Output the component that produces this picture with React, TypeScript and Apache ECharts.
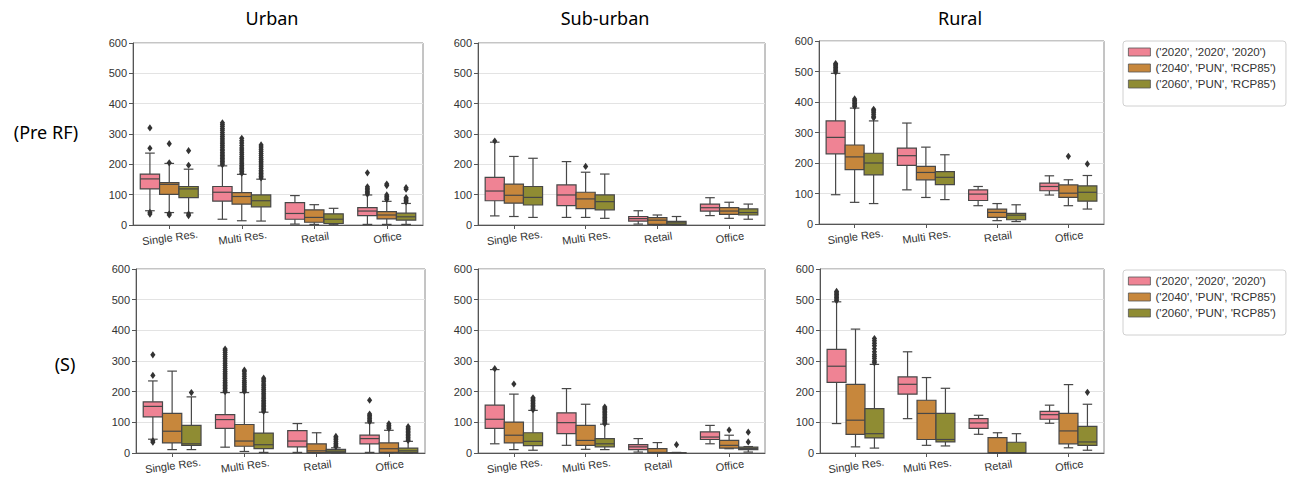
import React, { useEffect, useRef } from "react";
import * as echarts from "echarts";

// ---------- data ----------
const categories = ["Single Res.", "Multi Res.", "Retail", "Office"];
const hueNames = ["('2020', '2020', '2020')", "('2040', 'PUN', 'RCP85')", "('2060', 'PUN', 'RCP85')"];
const panelTitles = ["Urban", "Sub-urban", "Rural"];
const rowLabels = ["(Pre RF)", "(S)"];
const yMin = 0;
const yMax = 600;
const yStep = 100;

// boxes: [lower whisker, Q1, median, Q3, upper whisker] per category
const urbanPre2020 = [[47, 119, 152, 168, 237], [19, 79, 108, 127, 195], [3, 19, 38, 74, 97], [2, 31, 46, 57, 99]];
const urbanPre2040 = [[41, 101, 134, 140, 203], [14, 69, 94, 107, 167], [2, 9, 25, 50, 67], [2, 20, 33, 44, 78]];
const urbanPre2060 = [[40, 90, 119, 127, 184], [13, 60, 80, 99, 151], [1, 5, 19, 37, 55], [2, 16, 27, 39, 71]];

const suburbPre2020 = [[30, 80, 112, 157, 273], [25, 64, 99, 132, 209], [3, 13, 21, 28, 47], [31, 46, 57, 69, 90]];
const suburbPre2040 = [[28, 72, 98, 135, 226], [25, 54, 86, 108, 174], [0, 2, 16, 24, 33], [22, 35, 46, 57, 75]];
const suburbPre2060 = [[25, 66, 91, 127, 220], [22, 50, 77, 99, 168], [0, 1, 7, 12, 28], [19, 33, 41, 53, 69]];

const ruralPre2020 = [[96, 230, 284, 338, 494], [112, 192, 224, 249, 331], [60, 77, 98, 112, 123], [95, 109, 123, 134, 158]];
const ruralPre2040 = [[71, 178, 220, 259, 380], [87, 145, 169, 189, 252], [11, 22, 38, 49, 67], [60, 87, 101, 128, 145]];
const ruralPre2060 = [[67, 161, 200, 232, 338], [80, 129, 153, 172, 227], [8, 14, 29, 35, 63], [49, 75, 104, 125, 159]];

const urbanS2020 = [[45, 118, 152, 167, 235], [19, 80, 109, 125, 197], [2, 20, 39, 73, 96], [2, 30, 47, 58, 98]];
const urbanS2040 = [[11, 33, 71, 129, 267], [5, 22, 39, 93, 197], [0, 1, 7, 30, 66], [0, 2, 14, 33, 74]];
const urbanS2060 = [[11, 25, 30, 90, 183], [2, 14, 27, 65, 133], [0, 2, 6, 12, 17], [0, 1, 7, 16, 38]];

const suburbS2020 = [[30, 80, 110, 156, 272], [25, 63, 99, 131, 210], [3, 11, 20, 27, 47], [30, 44, 52, 69, 90]];
const suburbS2040 = [[11, 33, 58, 101, 192], [12, 25, 41, 90, 159], [0, 0, 2, 14, 34], [14, 16, 25, 41, 58]];
const suburbS2060 = [[9, 24, 38, 66, 139], [11, 20, 30, 47, 94], [0, 0, 0, 1, 2], [3, 11, 15, 19, 21]];

const ruralS2020 = [[96, 230, 283, 338, 493], [112, 192, 224, 248, 330], [61, 80, 98, 112, 123], [97, 110, 125, 136, 156]];
const ruralS2040 = [[20, 61, 107, 224, 404], [25, 44, 129, 172, 246], [0, 1, 1, 50, 66], [17, 30, 72, 129, 223]];
const ruralS2060 = [[16, 49, 63, 145, 289], [23, 36, 44, 129, 211], [0, 1, 1, 35, 63], [9, 25, 36, 87, 159]];

// outliers: [category index, value]
const urbanPre2020Out = [
  [0, 320], [0, 253], [0, 42], [0, 36],
  [1, 199], [1, 204], [1, 209], [1, 214], [1, 219], [1, 224], [1, 229], [1, 234], [1, 239], [1, 245], [1, 250], [1, 256],
  [1, 262], [1, 268], [1, 274], [1, 280], [1, 286], [1, 292], [1, 298], [1, 305], [1, 312], [1, 318], [1, 325], [1, 331], [1, 337],
  [3, 102], [3, 106], [3, 111], [3, 116], [3, 121], [3, 126], [3, 172],
];
const urbanPre2040Out = [
  [0, 268], [0, 205], [0, 37], [0, 33],
  [1, 171], [1, 176], [1, 181], [1, 186], [1, 191], [1, 196], [1, 202], [1, 208], [1, 214], [1, 220], [1, 226], [1, 233],
  [1, 240], [1, 247], [1, 254], [1, 262], [1, 270], [1, 278], [1, 286],
  [3, 84], [3, 89], [3, 94], [3, 99], [3, 130], [3, 135],
];
const urbanPre2060Out = [
  [0, 245], [0, 197], [0, 36], [0, 31],
  [1, 155], [1, 160], [1, 165], [1, 170], [1, 175], [1, 180], [1, 186], [1, 192], [1, 198], [1, 204], [1, 210], [1, 216],
  [1, 222], [1, 229], [1, 236], [1, 243], [1, 250], [1, 257], [1, 264],
  [3, 76], [3, 81], [3, 86], [3, 90], [3, 118], [3, 123],
];
const suburbPre2020Out = [[0, 277]];
const suburbPre2040Out = [[1, 193]];
const suburbPre2060Out: number[][] = [];
const ruralPre2020Out = [[0, 498], [0, 503], [0, 508], [0, 513], [0, 518], [0, 522], [0, 526]];
const ruralPre2040Out = [[0, 385], [0, 390], [0, 395], [0, 400], [0, 405], [0, 410], [3, 222]];
const ruralPre2060Out = [[0, 348], [0, 353], [0, 360], [0, 366], [0, 371], [0, 376], [3, 197]];

const urbanS2020Out = [
  [0, 320], [0, 253], [0, 40], [0, 35],
  [1, 200], [1, 205], [1, 210], [1, 215], [1, 220], [1, 225], [1, 230], [1, 236], [1, 242], [1, 248], [1, 254], [1, 260],
  [1, 266], [1, 272], [1, 279], [1, 286], [1, 293], [1, 300], [1, 307], [1, 314], [1, 321], [1, 328], [1, 334], [1, 339],
  [3, 102], [3, 107], [3, 112], [3, 117], [3, 122], [3, 127], [3, 172],
];
const urbanS2040Out = [
  [1, 201], [1, 206], [1, 212], [1, 218], [1, 224], [1, 230], [1, 236], [1, 243], [1, 250], [1, 258], [1, 265], [1, 270],
  [3, 80], [3, 85], [3, 90], [3, 95],
];
const urbanS2060Out = [
  [0, 197],
  [1, 136], [1, 141], [1, 146], [1, 151], [1, 156], [1, 161], [1, 166], [1, 171], [1, 177], [1, 183], [1, 189], [1, 195],
  [1, 201], [1, 207], [1, 213], [1, 219], [1, 225], [1, 232], [1, 238], [1, 244],
  [2, 21], [2, 26], [2, 31], [2, 37], [2, 43], [2, 49], [2, 54],
  [3, 41], [3, 46], [3, 51], [3, 56], [3, 61], [3, 66], [3, 71], [3, 76], [3, 81], [3, 86],
];
const suburbS2020Out = [[0, 275]];
const suburbS2040Out = [[0, 225], [3, 75]];
const suburbS2060Out = [
  [0, 141], [0, 146], [0, 151], [0, 156], [0, 161], [0, 166], [0, 171], [0, 176], [0, 180],
  [1, 96], [1, 101], [1, 106], [1, 111], [1, 116], [1, 121], [1, 126], [1, 131], [1, 136], [1, 141], [1, 146], [1, 150],
  [2, 27], [3, 36], [3, 68],
];
const ruralS2020Out = [[0, 497], [0, 502], [0, 507], [0, 512], [0, 517], [0, 522], [0, 527]];
const ruralS2040Out: number[][] = [];
const ruralS2060Out = [
  [0, 294], [0, 300], [0, 308], [0, 315], [0, 321], [0, 330], [0, 340], [0, 350], [0, 358], [0, 366], [0, 373],
  [3, 198],
];

// ---------- styling ----------
const hueColors = ["#ef8394", "#c7873c", "#8f8c33"];
const lineColor = "#474747";
const flierColor = "#333333";

const panels = [
  { grid: { left: 133, top: 43, width: 290, height: 182 }, boxes: [urbanPre2020, urbanPre2040, urbanPre2060], fliers: [urbanPre2020Out, urbanPre2040Out, urbanPre2060Out] },
  { grid: { left: 478, top: 43, width: 287, height: 182 }, boxes: [suburbPre2020, suburbPre2040, suburbPre2060], fliers: [suburbPre2020Out, suburbPre2040Out, suburbPre2060Out] },
  { grid: { left: 819, top: 41, width: 285, height: 183 }, boxes: [ruralPre2020, ruralPre2040, ruralPre2060], fliers: [ruralPre2020Out, ruralPre2040Out, ruralPre2060Out] },
  { grid: { left: 136, top: 269, width: 289, height: 184 }, boxes: [urbanS2020, urbanS2040, urbanS2060], fliers: [urbanS2020Out, urbanS2040Out, urbanS2060Out] },
  { grid: { left: 478, top: 269, width: 287, height: 184 }, boxes: [suburbS2020, suburbS2040, suburbS2060], fliers: [suburbS2020Out, suburbS2040Out, suburbS2060Out] },
  { grid: { left: 820, top: 269, width: 284, height: 184 }, boxes: [ruralS2020, ruralS2040, ruralS2060], fliers: [ruralS2020Out, ruralS2040Out, ruralS2060Out] },
];

function hueCenter(api: any, cat: number, h: number) {
  const c = api.coord([cat, 0]);
  const band = api.size([1, 0])[0];
  const w = (band * 0.8) / 3;
  return { cx: c[0] + (h - 1) * w, w };
}

function boxRenderer(h: number) {
  return (params: any, api: any) => {
    const cat = api.value(0);
    const lo = api.value(1);
    const q1 = api.value(2);
    const med = api.value(3);
    const q3 = api.value(4);
    const hi = api.value(5);
    const { cx, w } = hueCenter(api, cat, h);
    const yy = (v: number) => api.coord([cat, v])[1];
    const ls = { stroke: lineColor, lineWidth: 1.2 };
    return {
      type: "group",
      children: [
        { type: "line", shape: { x1: cx, y1: yy(q3), x2: cx, y2: yy(hi) }, style: ls },
        { type: "line", shape: { x1: cx, y1: yy(q1), x2: cx, y2: yy(lo) }, style: ls },
        { type: "line", shape: { x1: cx - w / 4, y1: yy(hi), x2: cx + w / 4, y2: yy(hi) }, style: ls },
        { type: "line", shape: { x1: cx - w / 4, y1: yy(lo), x2: cx + w / 4, y2: yy(lo) }, style: ls },
        {
          type: "rect",
          shape: { x: cx - w / 2, y: yy(q3), width: w, height: yy(q1) - yy(q3) },
          style: { fill: hueColors[h], stroke: lineColor, lineWidth: 1.2 },
        },
        { type: "line", shape: { x1: cx - w / 2, y1: yy(med), x2: cx + w / 2, y2: yy(med) }, style: ls },
      ],
    };
  };
}

function flierRenderer(h: number) {
  return (params: any, api: any) => {
    const cat = api.value(0);
    const v = api.value(1);
    const { cx } = hueCenter(api, cat, h);
    const y = api.coord([cat, v])[1];
    return {
      type: "polygon",
      shape: { points: [[cx, y - 3.6], [cx + 2.6, y], [cx, y + 3.6], [cx - 2.6, y]] },
      style: { fill: flierColor },
    };
  };
}

function buildOption() {
  const grid: any[] = [];
  const xAxis: any[] = [];
  const yAxis: any[] = [];
  const series: any[] = [];
  panels.forEach((p, i) => {
    grid.push({ ...p.grid, show: true, borderColor: "#8a8a8a", borderWidth: 1, backgroundColor: "transparent" });
    xAxis.push({
      type: "category",
      gridIndex: i,
      data: categories,
      axisLine: { show: true, lineStyle: { color: "#555", width: 1 } },
      axisTick: { show: true, alignWithLabel: true, interval: 0, length: 4, lineStyle: { color: "#555" } },
      axisLabel: {
        interval: 0,
        rotate: 8,
        align: "center",
        verticalAlign: "top",
        margin: 7,
        fontSize: 11,
        color: "#333",
        fontFamily: "Liberation Sans",
        hideOverlap: false,
      },
      splitLine: { show: false },
    });
    yAxis.push({
      type: "value",
      gridIndex: i,
      min: yMin,
      max: yMax,
      interval: yStep,
      axisLine: { show: true, lineStyle: { color: "#555", width: 1 } },
      axisTick: { show: true, length: 4, lineStyle: { color: "#555" } },
      axisLabel: { fontSize: 11, color: "#333", margin: 6, fontFamily: "Liberation Sans" },
      splitLine: { show: true, lineStyle: { color: "#e3e3e3", width: 1 } },
    });
    p.boxes.forEach((arr, h) => {
      series.push({
        type: "custom",
        name: hueNames[h],
        xAxisIndex: i,
        yAxisIndex: i,
        itemStyle: { color: hueColors[h] },
        dimensions: ["cat", "lo", "q1", "med", "q3", "hi"],
        encode: { x: 0, y: [1, 2, 3, 4, 5] },
        data: arr.map((b, c) => [c, ...b]),
        renderItem: boxRenderer(h),
        clip: false,
        z: 3,
      });
    });
    p.fliers.forEach((arr, h) => {
      series.push({
        type: "custom",
        name: "fliers",
        xAxisIndex: i,
        yAxisIndex: i,
        itemStyle: { color: flierColor },
        encode: { x: 0, y: 1 },
        data: arr,
        renderItem: flierRenderer(h),
        z: 4,
      });
    });
  });

  const legendBase = {
    data: hueNames,
    orient: "vertical",
    left: 1123,
    icon: "rect",
    itemWidth: 22,
    itemHeight: 8,
    itemGap: 4,
    padding: [5, 10, 16, 5],
    borderColor: "#d0d0d0",
    borderWidth: 1,
    borderRadius: 3,
    selectedMode: false,
    itemStyle: { borderColor: "#555", borderWidth: 0.8 },
    textStyle: { fontSize: 11.5, color: "#333", fontFamily: "Liberation Sans" },
  };

  const textFont = '18px "Noto Sans"';
  const mk = (text: string, x: number, y: number) => ({
    type: "text",
    x,
    y,
    style: { text, font: textFont, fill: "#000", align: "center", verticalAlign: "middle", textAlign: "center", textVerticalAlign: "middle" },
  });
  const graphic = [
    mk(panelTitles[0], 272, 18),
    mk(panelTitles[1], 605, 18),
    mk(panelTitles[2], 960, 18),
    mk(rowLabels[0], 46, 132),
    mk(rowLabels[1], 65, 364),
  ];

  return {
    animation: false,
    backgroundColor: "#ffffff",
    grid,
    xAxis,
    yAxis,
    series,
    legend: [
      { ...legendBase, top: 41 },
      { ...legendBase, top: 270 },
    ],
    graphic,
  };
}

export default function App() {
  const ref = useRef<HTMLDivElement>(null);
  useEffect(() => {
    if (!ref.current) return;
    const chart = echarts.init(ref.current, undefined, { renderer: "svg" });
    chart.setOption(buildOption() as any);
    return () => chart.dispose();
  }, []);
  return (
    <div
      ref={ref}
      style={{ position: "fixed", left: 0, top: 0, width: 1293, height: 479, background: "#fff" }}
    />
  );
}
